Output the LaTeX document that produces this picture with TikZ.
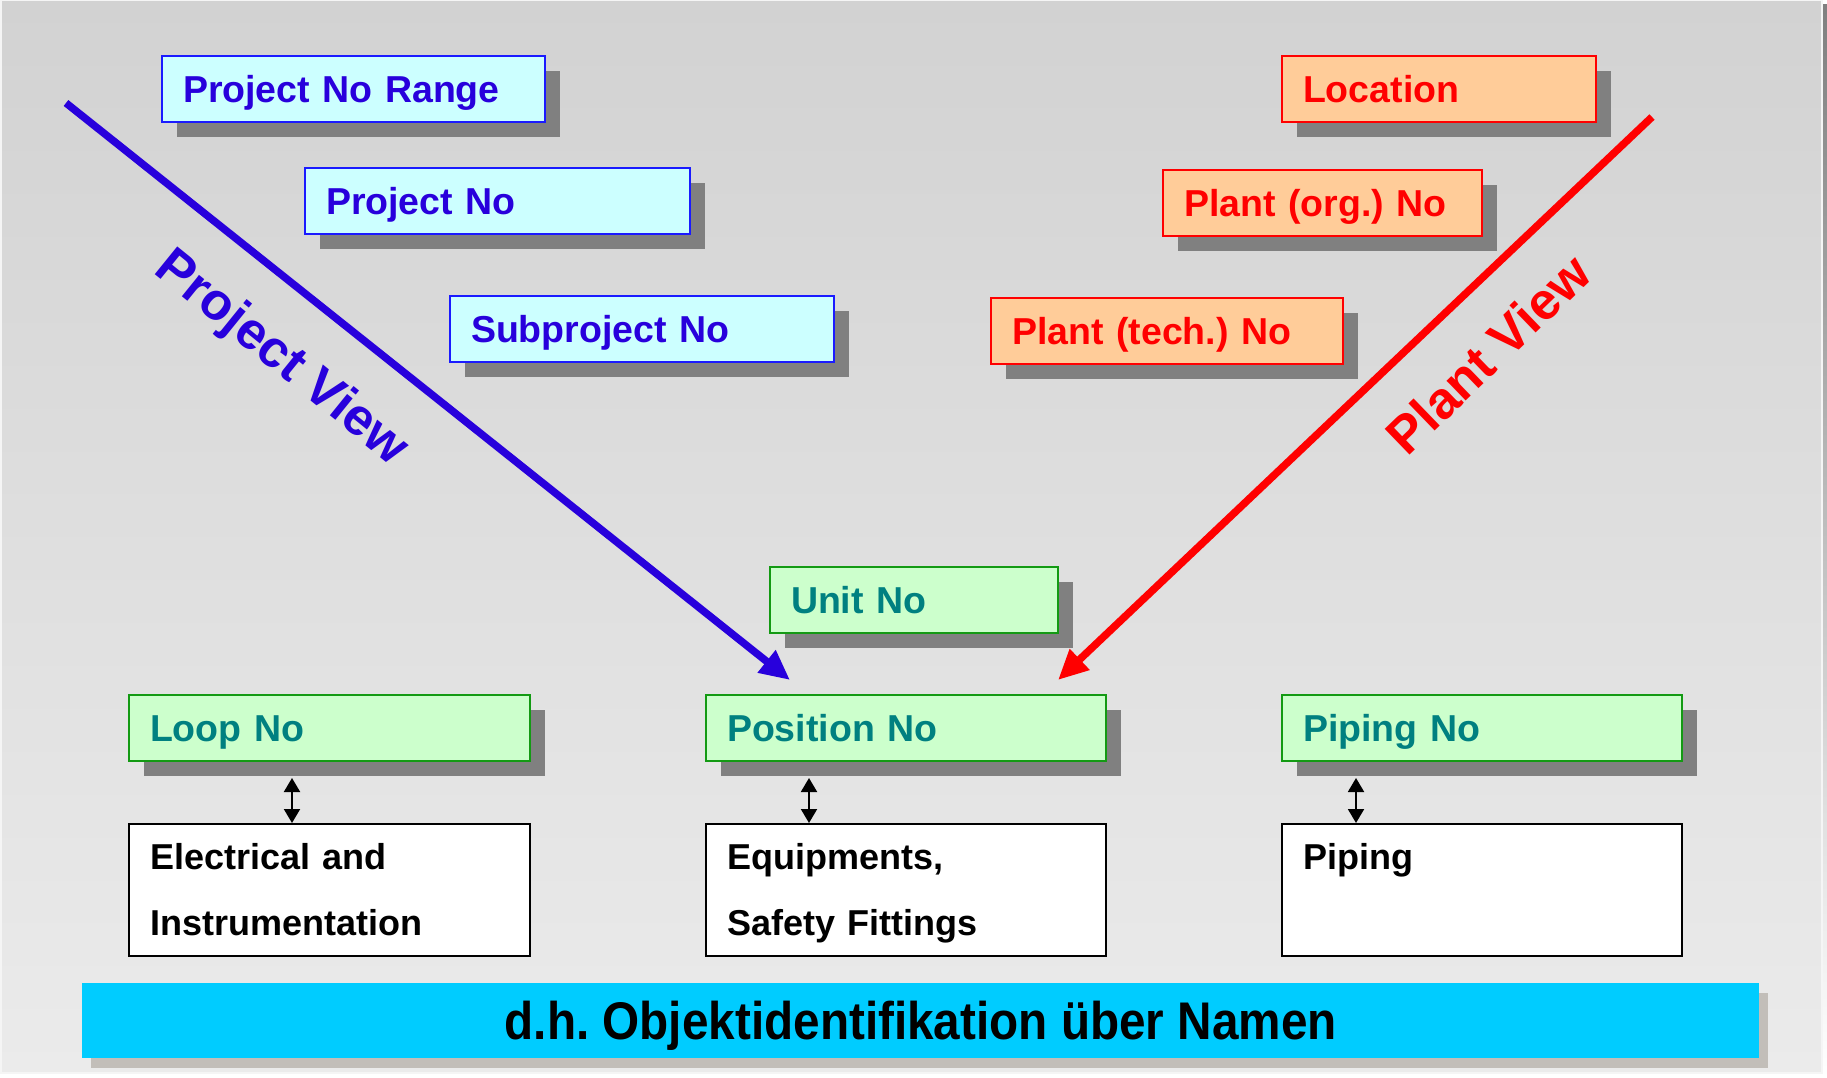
\documentclass[tikz,border=0pt]{standalone}
\usepackage{fontspec}
\setmainfont{Liberation Sans}
\newfontfamily\barfont[FakeStretch=0.9]{Liberation Sans}
\usetikzlibrary{shadows,arrows.meta}
\frenchspacing

\definecolor{bgtop}{HTML}{D2D2D2}
\definecolor{bgbottom}{HTML}{EBEBEB}
\definecolor{shade}{HTML}{808080}
\definecolor{pblue}{RGB}{40,0,220}
\definecolor{pborder}{HTML}{1A1AFF}
\definecolor{pfill}{HTML}{CCFFFF}
\definecolor{lfill}{HTML}{FFCC99}
\definecolor{lred}{HTML}{FF0000}
\definecolor{gfill}{HTML}{CCFFCC}
\definecolor{gborder}{HTML}{139A13}
\definecolor{gtext}{HTML}{008080}
\definecolor{barcyan}{HTML}{00CCFF}
\definecolor{barshade}{HTML}{C2BEB9}

\begin{document}
\begin{tikzpicture}[x=1pt,y=-1pt,
  idbox/.style={rectangle, anchor=north west, inner xsep=21pt, inner ysep=0pt,
    minimum height=66pt, line width=2pt, align=left,
    font=\fontsize{37.5}{40}\selectfont\bfseries, text height=27pt, text depth=0pt,
    general shadow={fill=shade, shadow xshift=15pt, shadow yshift=-15pt}},
  projbox/.style={idbox, fill=pfill, draw=pborder, text=pblue},
  plantbox/.style={idbox, fill=lfill, draw=lred, text=lred},
  unitbox/.style={idbox, fill=gfill, draw=gborder, text=gtext},
  areabox/.style={rectangle, anchor=north west, inner xsep=21pt, inner ysep=0pt,
    line width=2pt, draw=black, fill=white, align=left, text width=359pt,
    font=\fontsize{36}{66}\selectfont\bfseries, text height=45pt, text depth=87pt},
  viewline/.style={line width=7.5pt, -{Triangle[length=30pt,width=27pt]}},
  link/.style={line width=2pt, {Triangle[length=14pt,width=16pt]}-{Triangle[length=14pt,width=16pt]}},
  viewlabel/.style={font=\fontsize{52}{54}\selectfont\bfseries}
]
\useasboundingbox (0,0) rectangle (1827,1078);

% panel with its shadow and shaded background
\fill[shade] (5,5) rectangle (1827,1078);
\shade[top color=bgtop, bottom color=bgbottom, draw=white!92!gray, line width=1.5pt]
  (0.75,0.75) rectangle (1822,1073);

% project hierarchy
\node[projbox, text width=341pt] (pnr) at (161,55) {Project No Range};
\node[projbox, text width=343pt] (pn) at (304,167) {Project No};
\node[projbox, text width=342pt] (spn) at (449,295) {Subproject No};

% plant hierarchy
\node[plantbox, text width=272pt] (loc) at (1281,55) {Location};
\node[plantbox, text width=277pt] (porg) at (1162,169) {Plant (org.) No};
\node[plantbox, text width=310pt] (ptech) at (990,297) {Plant (tech.) No};

% object identifiers
\node[unitbox, text width=246pt] (unit) at (769,566) {Unit No};
\node[unitbox, text width=359pt] (loop) at (128,694) {Loop No};
\node[unitbox, text width=358pt] (pos) at (705,694) {Position No};
\node[unitbox, text width=358pt] (pip) at (1281,694) {Piping No};

% object areas
\node[areabox] (ei) at (128,823) {Electrical and\\Instrumentation};
\node[areabox, text width=358pt] (eq) at (705,823) {Equipments,\\Safety Fittings};
\node[areabox, text width=358pt] (piping) at (1281,823) {Piping};

% links between identifiers and areas
\draw[link] ([xshift=164pt,yshift=-16pt]loop.south west) -- ([xshift=164pt]ei.north west);
\draw[link] ([xshift=104pt,yshift=-16pt]pos.south west) -- ([xshift=104pt]eq.north west);
\draw[link] ([xshift=75pt,yshift=-16pt]pip.south west) -- ([xshift=75pt]piping.north west);

% the two views
\coordinate (pstart) at (66,103);
\coordinate (ptip) at (790,680);
\coordinate (lstart) at (1652,117);
\coordinate (ltip) at (1058,680);
\draw[viewline, pblue] (pstart) -- (ptip);
\draw[viewline, lred] (lstart) -- (ltip);
\node[viewlabel, text=pblue, rotate=-39] (pview) at (281,359) {Project View};
\node[viewlabel, text=lred, rotate=44] (lview) at (1488,354) {Plant View};

% summary bar
\node[rectangle, anchor=north west, fill=barcyan, minimum width=1677pt, minimum height=75pt,
  inner sep=0pt, text height=38pt, text depth=0pt,
  font=\barfont\fontsize{53}{55}\selectfont\bfseries,
  general shadow={fill=barshade, shadow xshift=9pt, shadow yshift=-10pt}]
  (bar) at (82,983) {d.h. Objektidentifikation über Namen};
\end{tikzpicture}
\end{document}
